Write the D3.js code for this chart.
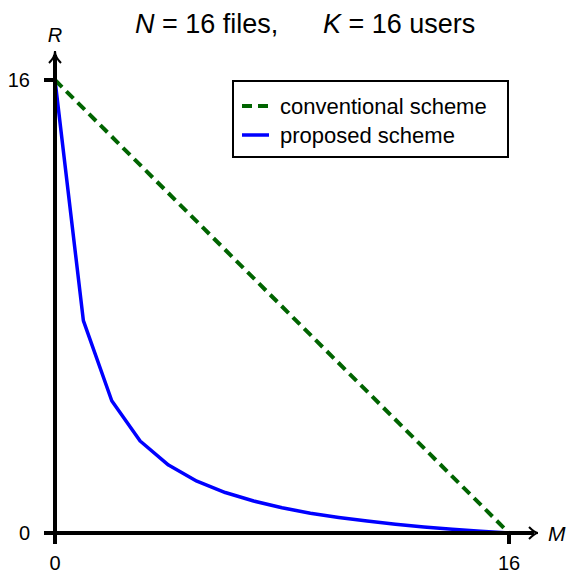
<!DOCTYPE html>
<html><head><meta charset="utf-8">
<script src="https://cdn.jsdelivr.net/npm/d3@7"></script>
<style>body{margin:0;background:#fff}svg{display:block}text{font-family:"Liberation Sans",Arial,sans-serif;fill:#000}</style>
</head><body>
<script>
const mValues = [0,1,2,3,4,5,6,7,8,9,10,11,12,13,14,15,16];
const proposedR = [16,7.5,4.67,3.25,2.4,1.83,1.43,1.13,0.89,0.7,0.55,0.42,0.31,0.21,0.13,0.06,0];
const conventionalM = [0,16];
const conventionalR = [16,0];
const xTicks = [0,16];
const yTicks = [0,16];
const seriesNames = ["conventional scheme","proposed scheme"];

const W=570,H=575;
const svg=d3.select("body").append("svg").attr("width",W).attr("height",H);
const x=d3.scaleLinear().domain([0,16]).range([55,509]);
const y=d3.scaleLinear().domain([0,16]).range([533,80]);

// title
const t1=svg.append("text").attr("x",135).attr("y",33).style("font-size","27px");
t1.append("tspan").style("font-style","italic").text("N");
t1.append("tspan").text(" = 16 files,");
const t2=svg.append("text").attr("x",323).attr("y",33).style("font-size","27px");
t2.append("tspan").style("font-style","italic").text("K");
t2.append("tspan").text(" = 16 users");

// data lines
const line=d3.line().x(d=>x(d[0])).y(d=>y(d[1]));
svg.append("path").datum(mValues.map((m,i)=>[m,proposedR[i]])).attr("d",line)
  .attr("fill","none").attr("stroke","#0000ff").attr("stroke-width",3.5).attr("stroke-linejoin","round");
svg.append("path").datum(conventionalM.map((m,i)=>[m,conventionalR[i]])).attr("d",line)
  .attr("fill","none").attr("stroke","#006400").attr("stroke-width",4).attr("stroke-dasharray","10,6");

// axes
svg.append("line").attr("x1",x(0)).attr("x2",x(0)).attr("y1",y(0)+2).attr("y2",55).attr("stroke","#000").attr("stroke-width",4);
svg.append("line").attr("x1",x(0)-2).attr("x2",534).attr("y1",y(0)).attr("y2",y(0)).attr("stroke","#000").attr("stroke-width",4);
// arrowheads
svg.append("path").attr("d",`M${x(0)-6},${63} Q${x(0)},${57} ${x(0)},${51} Q${x(0)},${57} ${x(0)+6},${63}`).attr("fill","none").attr("stroke","#000").attr("stroke-width",2);
svg.append("path").attr("d",`M${529},${y(0)-6} Q${535},${y(0)} ${538},${y(0)} Q${535},${y(0)} ${529},${y(0)+6}`).attr("fill","none").attr("stroke","#000").attr("stroke-width",2);

// ticks
yTicks.forEach(v=>{
  svg.append("line").attr("x1",x(0)-11).attr("x2",x(0)).attr("y1",y(v)).attr("y2",y(v)).attr("stroke","#000").attr("stroke-width",4);
  svg.append("text").attr("x",30).attr("y",y(v)).attr("dy","0.36em").attr("text-anchor","end").style("font-size","20px").text(v);
});
xTicks.forEach(v=>{
  svg.append("line").attr("x1",x(v)).attr("x2",x(v)).attr("y1",y(0)).attr("y2",y(0)+11).attr("stroke","#000").attr("stroke-width",4);
  svg.append("text").attr("x",x(v)).attr("y",563).attr("dy","0.36em").attr("text-anchor","middle").style("font-size","20px").text(v);
});
svg.append("text").attr("x",x(0)).attr("y",35).attr("dy","0.36em").attr("text-anchor","middle").style("font-size","20px").style("font-style","italic").text("R");
svg.append("text").attr("x",548).attr("y",y(0)).attr("dy","0.36em").style("font-size","21px").style("font-style","italic").text("M");

// legend
const lg=svg.append("g");
lg.append("rect").attr("x",233).attr("y",81).attr("width",275).attr("height",76).attr("fill","#fff").attr("stroke","#000").attr("stroke-width",2);
const styles=[{c:"#006400",d:"10,6",w:4},{c:"#0000ff",d:null,w:3.5}];
seriesNames.forEach((n,i)=>{
  const yy=106+i*29;
  lg.append("line").attr("x1",242).attr("x2",269).attr("y1",yy).attr("y2",yy).attr("stroke",styles[i].c).attr("stroke-width",styles[i].w).attr("stroke-dasharray",styles[i].d);
  lg.append("text").attr("x",280).attr("y",yy).attr("dy","0.36em").style("font-size","22px").text(n);
});
</script>
</body></html>
